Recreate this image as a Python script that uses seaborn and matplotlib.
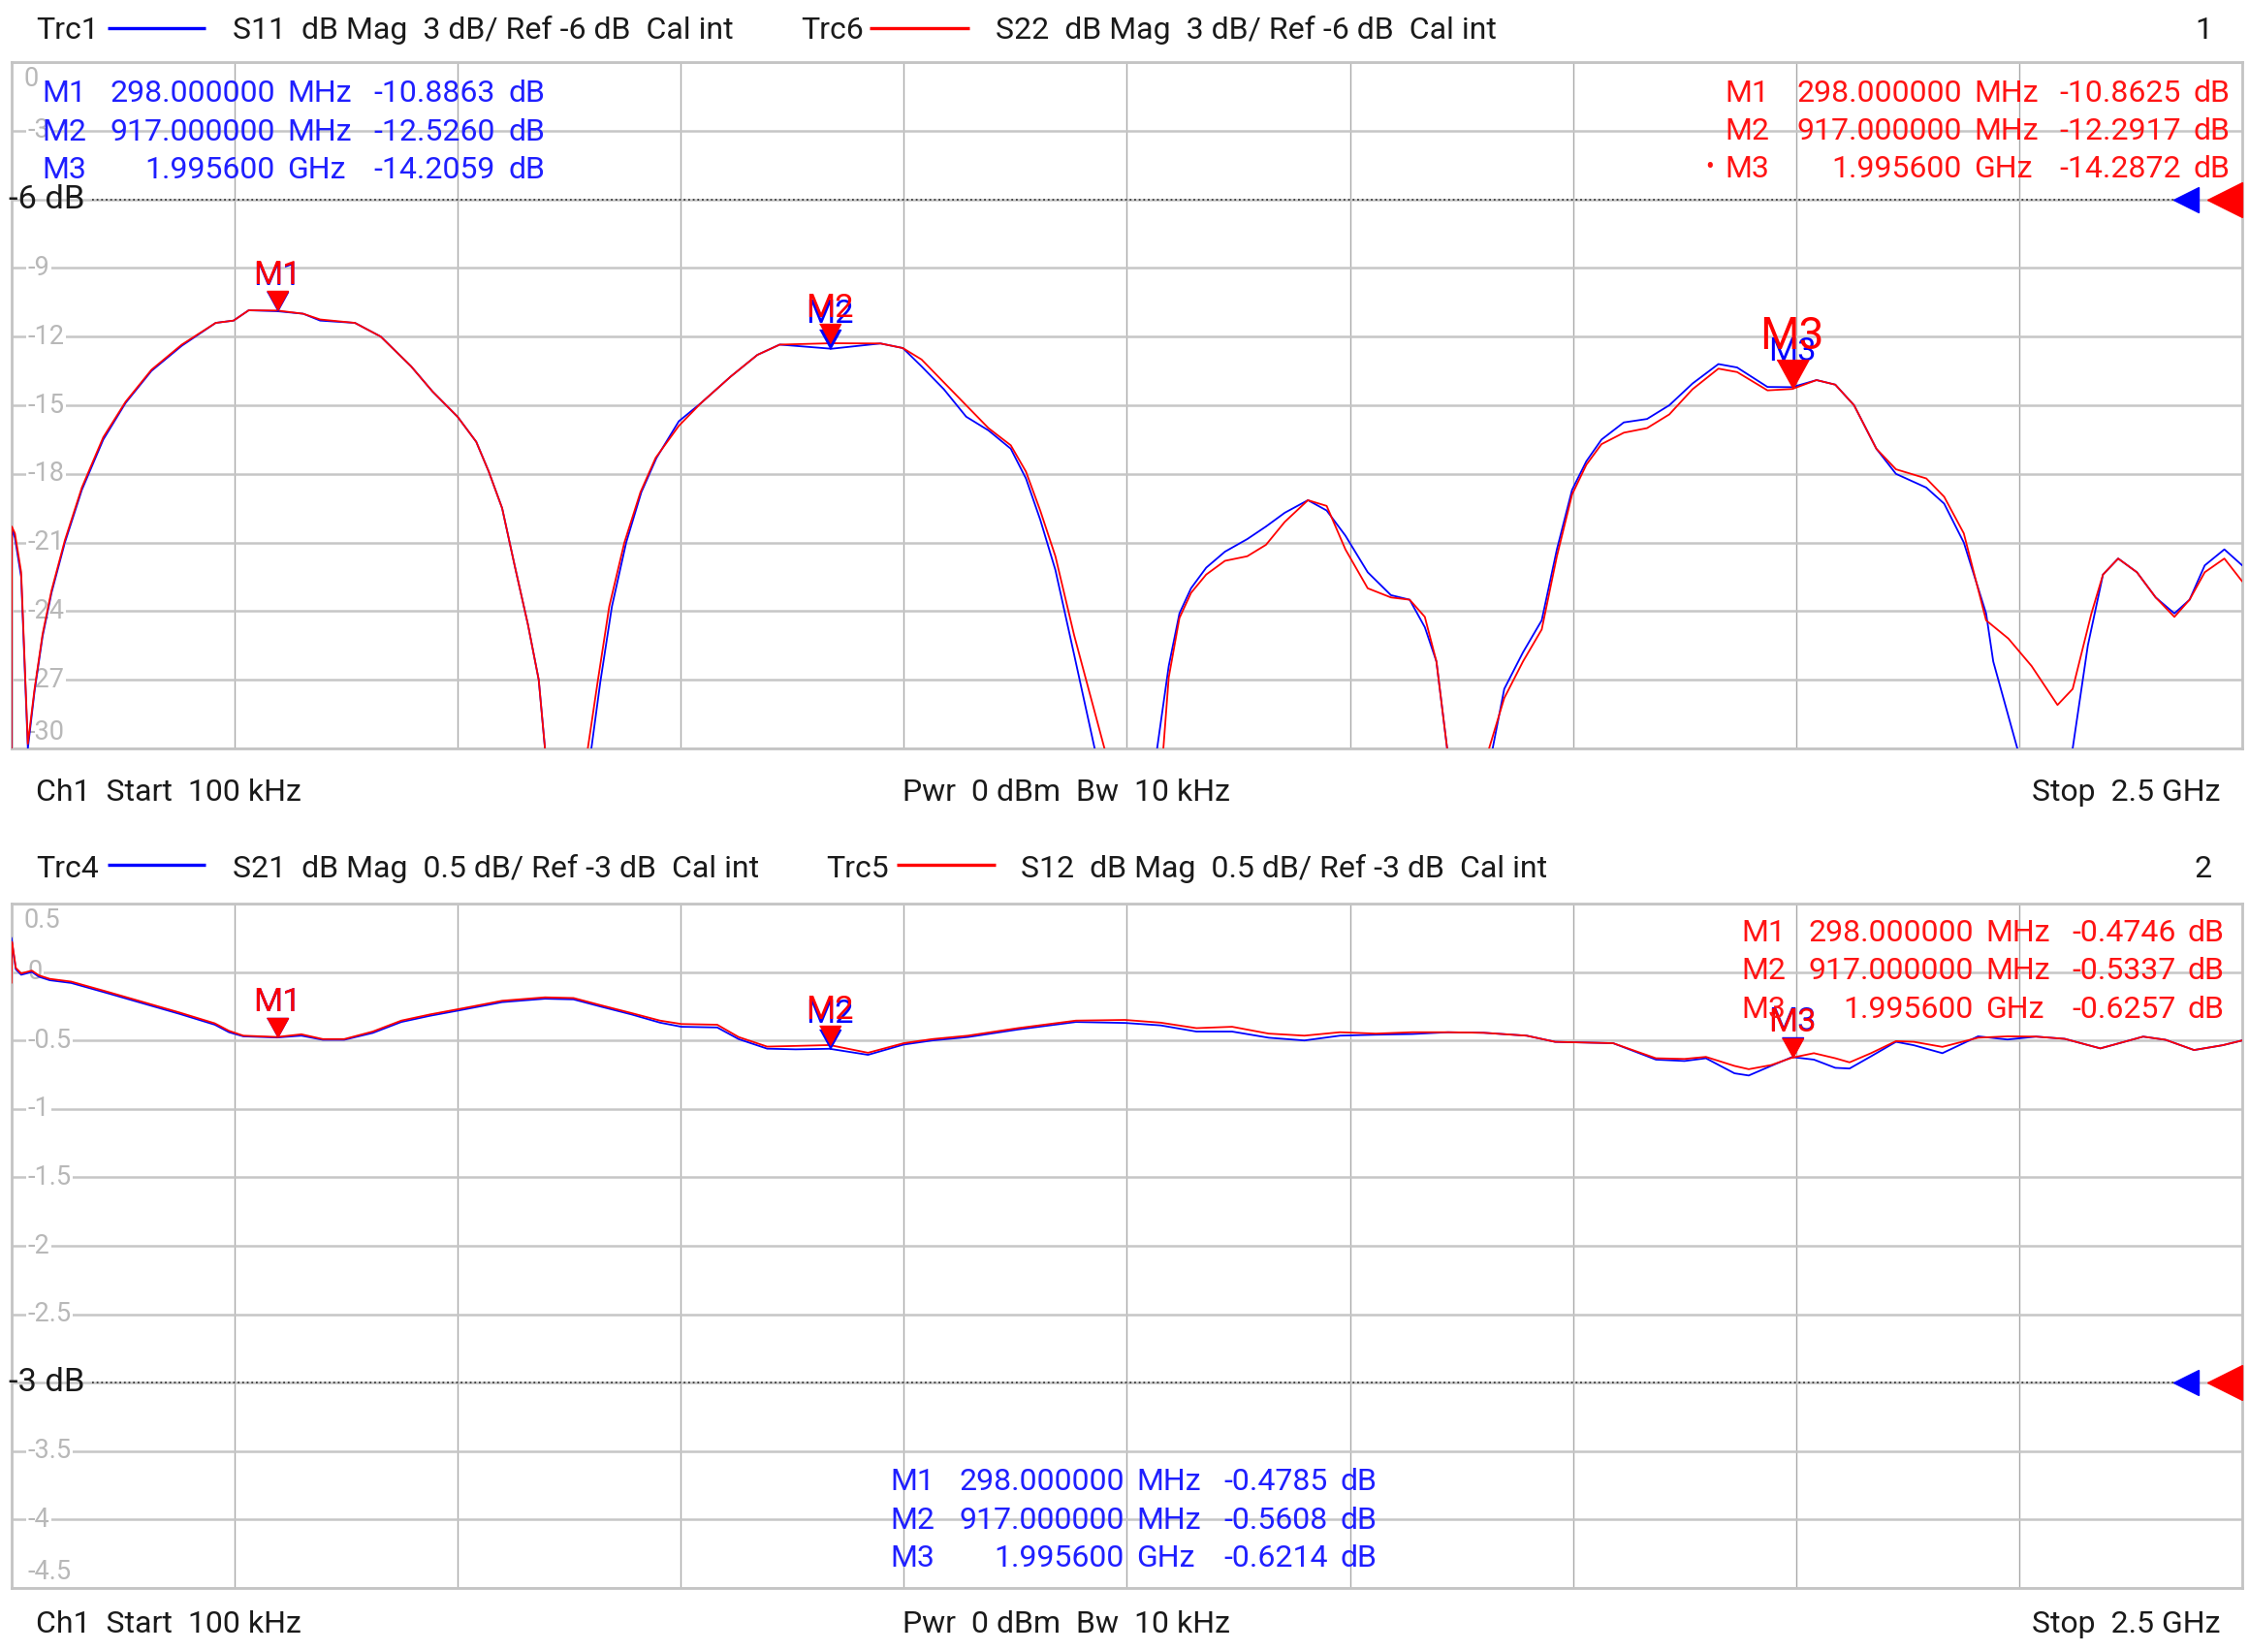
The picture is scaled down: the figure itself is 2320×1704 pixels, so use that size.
import numpy as np
import pandas as pd
import matplotlib
matplotlib.use("Agg")
import matplotlib.pyplot as plt
import seaborn as sns
from matplotlib import font_manager as fm
from matplotlib.lines import Line2D

# ------------------------------------------------------------------ data
F_START, F_STOP = 0.0001, 2.5          # GHz (100 kHz .. 2.5 GHz)

# Diagram 1: S11 (Trc1, blue) and S22 (Trc6, red), dB
S11_f = [0.0001, 0.0005, 0.004, 0.011, 0.0185, 0.026, 0.035, 0.045, 0.060, 0.079,
         0.103, 0.128, 0.157, 0.191, 0.229, 0.249, 0.266, 0.298, 0.327, 0.346,
         0.385, 0.414, 0.448, 0.472, 0.500, 0.521, 0.535, 0.550, 0.564, 0.579,
         0.591, 0.598, 0.624, 0.650, 0.660, 0.673, 0.689, 0.706, 0.723, 0.748,
         0.773, 0.806, 0.836, 0.861, 0.919, 0.974, 0.999, 1.020, 1.045, 1.070,
         1.095, 1.120, 1.137, 1.153, 1.170, 1.191, 1.214, 1.250, 1.284, 1.297,
         1.309, 1.322, 1.339, 1.360, 1.385, 1.406, 1.427, 1.453, 1.474, 1.495,
         1.520, 1.546, 1.567, 1.584, 1.597, 1.609, 1.635, 1.660, 1.673, 1.694,
         1.715, 1.732, 1.749, 1.765, 1.782, 1.807, 1.833, 1.858, 1.884, 1.913,
         1.934, 1.968, 1.9956, 2.023, 2.044, 2.065, 2.090, 2.112, 2.146, 2.166,
         2.188, 2.213, 2.221, 2.248, 2.280, 2.310, 2.327, 2.344, 2.361, 2.382,
         2.403, 2.424, 2.441, 2.458, 2.480, 2.500]
S11_db = [-31.0, -20.4, -20.8, -22.5, -30.0, -27.5, -25.1, -23.2, -21.0, -18.7,
          -16.5, -14.9, -13.5, -12.4, -11.4, -11.3, -10.85, -10.89, -11.0, -11.3,
          -11.4, -12.0, -13.3, -14.4, -15.5, -16.6, -17.9, -19.5, -22.0, -24.6,
          -27.0, -30.0, -34.0, -30.0, -27.1, -23.8, -21.0, -18.8, -17.3, -15.7,
          -14.9, -13.75, -12.8, -12.35, -12.53, -12.3, -12.5, -13.3, -14.3, -15.5,
          -16.1, -16.9, -18.2, -20.0, -22.2, -25.9, -30.0, -34.0, -30.0, -26.4,
          -24.1, -23.0, -22.1, -21.4, -20.85, -20.3, -19.7, -19.15, -19.6, -20.7,
          -22.3, -23.3, -23.5, -24.7, -26.2, -30.0, -34.0, -30.0, -27.4, -25.8,
          -24.4, -21.3, -18.7, -17.45, -16.5, -15.75, -15.6, -15.0, -14.05, -13.2,
          -13.35, -14.2, -14.21, -13.9, -14.1, -15.0, -16.9, -18.0, -18.6, -19.3,
          -21.0, -24.1, -26.2, -30.0, -34.0, -30.0, -25.5, -22.4, -21.7, -22.3,
          -23.4, -24.1, -23.5, -22.0, -21.3, -22.0]

S22_f = [0.0001, 0.0005, 0.004, 0.011, 0.0185, 0.026, 0.035, 0.045, 0.060, 0.079,
         0.103, 0.128, 0.157, 0.191, 0.229, 0.249, 0.266, 0.298, 0.327, 0.346,
         0.385, 0.414, 0.448, 0.472, 0.500, 0.521, 0.535, 0.550, 0.564, 0.579,
         0.591, 0.598, 0.620, 0.646, 0.657, 0.670, 0.687, 0.705, 0.722, 0.748,
         0.773, 0.806, 0.836, 0.861, 0.919, 0.974, 0.999, 1.020, 1.045, 1.070,
         1.095, 1.120, 1.137, 1.153, 1.170, 1.191, 1.225, 1.260, 1.291, 1.297,
         1.309, 1.322, 1.339, 1.360, 1.385, 1.406, 1.427, 1.453, 1.474, 1.495,
         1.520, 1.546, 1.567, 1.584, 1.597, 1.609, 1.630, 1.656, 1.673, 1.694,
         1.715, 1.732, 1.749, 1.765, 1.782, 1.807, 1.833, 1.858, 1.884, 1.913,
         1.934, 1.968, 1.9956, 2.023, 2.044, 2.065, 2.090, 2.112, 2.146, 2.166,
         2.188, 2.213, 2.238, 2.264, 2.293, 2.310, 2.331, 2.344, 2.361, 2.382,
         2.403, 2.424, 2.441, 2.458, 2.480, 2.500]
S22_db = [-31.0, -20.3, -20.6, -22.3, -29.8, -27.4, -25.0, -23.1, -20.9, -18.6,
          -16.4, -14.85, -13.45, -12.35, -11.4, -11.3, -10.85, -10.86, -11.0, -11.25,
          -11.4, -12.0, -13.3, -14.4, -15.5, -16.6, -17.9, -19.5, -22.0, -24.6,
          -27.0, -30.0, -34.0, -30.0, -27.1, -23.8, -21.0, -18.8, -17.3, -15.9,
          -14.9, -13.75, -12.8, -12.35, -12.29, -12.3, -12.5, -13.0, -14.0, -15.0,
          -16.0, -16.75, -17.9, -19.6, -21.6, -25.05, -30.0, -34.0, -30.0, -26.9,
          -24.3, -23.2, -22.4, -21.8, -21.6, -21.1, -20.1, -19.15, -19.4, -21.3,
          -23.0, -23.4, -23.5, -24.25, -26.2, -30.0, -34.0, -30.0, -27.8, -26.2,
          -24.8, -21.6, -18.9, -17.6, -16.7, -16.2, -16.0, -15.4, -14.3, -13.4,
          -13.55, -14.35, -14.29, -13.9, -14.1, -15.0, -16.9, -17.8, -18.2, -19.0,
          -20.6, -24.4, -25.2, -26.4, -28.1, -27.4, -24.1, -22.4, -21.7, -22.3,
          -23.4, -24.25, -23.5, -22.3, -21.7, -22.7]

# Diagram 2: S21 (Trc4, blue) and S12 (Trc5, red), dB
S21_f = [0.0001, 0.0015, 0.005, 0.011, 0.023, 0.031, 0.043, 0.067, 0.108, 0.148,
         0.188, 0.228, 0.244, 0.260, 0.298, 0.325, 0.349, 0.373, 0.405, 0.437,
         0.469, 0.502, 0.550, 0.598, 0.630, 0.662, 0.695, 0.727, 0.751, 0.791,
         0.815, 0.847, 0.879, 0.917, 0.960, 1.000, 1.032, 1.072, 1.128, 1.193,
         1.248, 1.288, 1.328, 1.368, 1.409, 1.449, 1.489, 1.529, 1.570, 1.610,
         1.650, 1.698, 1.730, 1.795, 1.819, 1.843, 1.875, 1.899, 1.931, 1.947,
         1.972, 1.9956, 2.020, 2.044, 2.060, 2.084, 2.112, 2.132, 2.164, 2.204,
         2.237, 2.269, 2.301, 2.341, 2.389, 2.414, 2.446, 2.478, 2.500]
S21_db = [0.25, 0.18, 0.02, -0.02, 0.0, -0.035, -0.06, -0.08, -0.155, -0.23,
          -0.305, -0.385, -0.44, -0.47, -0.4785, -0.465, -0.495, -0.495, -0.445, -0.365,
          -0.32, -0.28, -0.22, -0.195, -0.2, -0.255, -0.31, -0.37, -0.40, -0.405,
          -0.49, -0.56, -0.565, -0.5608, -0.605, -0.53, -0.50, -0.475, -0.42, -0.365,
          -0.372, -0.39, -0.435, -0.435, -0.48, -0.50, -0.465, -0.458, -0.453, -0.44,
          -0.444, -0.465, -0.51, -0.52, -0.58, -0.64, -0.65, -0.63, -0.74, -0.756,
          -0.686, -0.6214, -0.64, -0.70, -0.705, -0.616, -0.51, -0.535, -0.593, -0.47,
          -0.493, -0.472, -0.488, -0.558, -0.472, -0.495, -0.57, -0.535, -0.50]

S12_f = [0.0001, 0.0006, 0.0015, 0.005, 0.011, 0.023, 0.031, 0.043, 0.067, 0.108,
         0.148, 0.188, 0.228, 0.244, 0.260, 0.298, 0.325, 0.349, 0.373, 0.405,
         0.437, 0.469, 0.502, 0.550, 0.598, 0.630, 0.662, 0.695, 0.727, 0.751,
         0.791, 0.815, 0.847, 0.879, 0.917, 0.960, 1.000, 1.032, 1.072, 1.128,
         1.193, 1.248, 1.288, 1.328, 1.368, 1.409, 1.449, 1.489, 1.529, 1.570,
         1.610, 1.650, 1.698, 1.730, 1.795, 1.819, 1.843, 1.875, 1.899, 1.931,
         1.947, 1.972, 1.9956, 2.020, 2.044, 2.060, 2.084, 2.112, 2.132, 2.164,
         2.204, 2.237, 2.269, 2.301, 2.341, 2.389, 2.414, 2.446, 2.478, 2.500]
S12_db = [-0.08, 0.22, 0.19, 0.03, -0.01, 0.01, -0.025, -0.05, -0.07, -0.145,
          -0.22, -0.295, -0.375, -0.43, -0.465, -0.4746, -0.455, -0.49, -0.49, -0.435,
          -0.355, -0.31, -0.27, -0.21, -0.185, -0.19, -0.245, -0.30, -0.355, -0.38,
          -0.385, -0.475, -0.545, -0.54, -0.5337, -0.59, -0.52, -0.49, -0.465, -0.41,
          -0.355, -0.35, -0.37, -0.41, -0.40, -0.45, -0.465, -0.44, -0.45, -0.44,
          -0.44, -0.444, -0.465, -0.51, -0.52, -0.575, -0.63, -0.635, -0.62, -0.686,
          -0.71, -0.68, -0.6257, -0.593, -0.63, -0.66, -0.593, -0.505, -0.51, -0.547,
          -0.48, -0.47, -0.472, -0.488, -0.558, -0.472, -0.495, -0.57, -0.535, -0.50]

# Markers
MARKER_NAMES = ["M1", "M2", "M3"]
MARKER_F = [0.298, 0.917, 1.9956]
MARKER_F_TEXT = ["298.000000", "917.000000", "1.995600"]
MARKER_UNIT = ["MHz", "MHz", "GHz"]
S11_MK = [-10.8863, -12.5260, -14.2059]
S22_MK = [-10.8625, -12.2917, -14.2872]
S21_MK = [-0.4785, -0.5608, -0.6214]
S12_MK = [-0.4746, -0.5337, -0.6257]

TOP_YTICKS = [0, -3, -6, -9, -12, -15, -18, -21, -24, -27, -30]
TOP_YLABELS = ["0", "-3", "-6", "-9", "-12", "-15", "-18", "-21", "-24", "-27", "-30"]
BOT_YTICKS = [0.5, 0, -0.5, -1, -1.5, -2, -2.5, -3, -3.5, -4, -4.5]
BOT_YLABELS = ["0.5", "0", "-0.5", "-1", "-1.5", "-2", "-2.5", "-3", "-3.5", "-4", "-4.5"]
TOP_REF, BOT_REF = -6, -3

# ------------------------------------------------------------------ style
BLUE = "#0000ff"
RED = "#ff0000"
TXT_BLUE = "#1f1fff"
TXT_RED = "#ff1414"
INK = "#1a1a1a"
TICK_GRAY = "#b8b8b8"

sns.set_theme(style="white")


def pick_font():
    names = {e.name for e in fm.fontManager.ttflist}
    for nm in ["Roboto", "Noto Sans", "Lato", "DejaVu Sans"]:
        if nm in names:
            return dict(family=[nm, "DejaVu Sans"])
    return dict(family=["DejaVu Sans"])


FONT = pick_font()
plt.rcParams["font.family"] = FONT["family"]

W, H = 2320, 1704
fig = plt.figure(figsize=(W / 100, H / 100), dpi=100)
fig.patch.set_facecolor("white")

# size text so that the header run has the reference width
renderer = fig.canvas.get_renderer()
_t = fig.text(0, 0, "S11  dB Mag  3 dB/ Ref -6 dB  Cal int", fontsize=20, **FONT)
_w = _t.get_window_extent(renderer).width
_t.remove()
S = max(19.0, min(23.0, 20 * 522 / _w))


def T(x, y, s, ha="left", color=INK, size=None, va="baseline", **kw):
    fig.text(x / W, 1 - y / H, s, ha=ha, va=va, color=color,
             fontsize=S if size is None else size, **FONT, **kw)


def hline(x0, x1, y, color):
    fig.add_artist(Line2D([x0 / W, x1 / W], [1 - y / H, 1 - y / H], color=color,
                          lw=2.4, transform=fig.transFigure, solid_capstyle="butt"))


TRI = [(-0.55, 1.0), (0.55, 1.0), (0.0, 0.0)]   # tip at the data point


def make_panel(rect, traces, ylim, yticks, ylabels, ref, mk_blue, mk_red, big_m3):
    ax = fig.add_axes(rect)
    rows = []
    for name, f, d in traces:
        rows.append(pd.DataFrame({"f": f, "dB": d, "trace": name}))
    df = pd.concat(rows, ignore_index=True)
    order = [traces[0][0], traces[1][0]]
    sns.lineplot(data=df, x="f", y="dB", hue="trace", hue_order=order,
                 palette={order[0]: BLUE, order[1]: RED}, estimator=None,
                 sort=False, linewidth=1.3, legend=False, ax=ax, zorder=3)
    ax.set_xlim(F_START, F_STOP)
    ax.set_ylim(ylim)
    ax.set_xticks(np.linspace(F_START, F_STOP, 11))
    ax.set_yticks(yticks)
    ax.tick_params(length=0, labelbottom=False, labelleft=False)
    ax.set_xlabel("")
    ax.set_ylabel("")
    ax.xaxis.grid(True, color="#a9a9a9", lw=1.0)
    ax.yaxis.grid(True, color="#c6c6c6", lw=1.8)
    ax.set_axisbelow(True)
    for sp in ax.spines.values():
        sp.set_color("#c4c4c4")
        sp.set_linewidth(2.0)
    ytr = ax.get_yaxis_transform()

    # scale labels inside the grid
    top, bot = max(ylim), min(ylim)
    for v, lab in zip(yticks, ylabels):
        if v == ref:
            continue
        if v == top:
            va, dy, dx = "top", -3, 9
        elif v == bot:
            va, dy, dx = "bottom", 2, 12
        else:
            va, dy, dx = "center", 0, 12
        ax.annotate(lab, xy=(0, v), xycoords=ytr, xytext=(dx, dy),
                    textcoords="offset points", ha="left", va=va,
                    color=TICK_GRAY, fontsize=S * 0.85, zorder=1,
                    bbox=dict(fc="white", ec="none", pad=1.0), **FONT)

    # reference level
    ax.annotate(f"{ref:g} dB", xy=(0, ref), xycoords=ytr, xytext=(-2, 0),
                textcoords="offset points", ha="left", va="center",
                color=INK, fontsize=S * 1.08, zorder=4, **FONT)
    ax.plot([0.036, 0.970], [ref, ref], transform=ytr, color="#3a3a3a",
            lw=1.3, ls=(0, (1, 1.6)), zorder=2)
    ax.plot([0.975], [ref], transform=ytr, marker="<", ms=19, color=BLUE,
            clip_on=False, zorder=5)
    ax.plot([0.992], [ref], transform=ytr, marker="<", ms=26, color=RED,
            clip_on=False, zorder=6)

    # markers on traces
    for i, (nm, f) in enumerate(zip(MARKER_NAMES, MARKER_F)):
        for val, col, is_red in ((mk_blue[i], BLUE, False), (mk_red[i], RED, True)):
            big = big_m3 and is_red and nm == "M3"
            ms = 43 if big else 28.8
            off = 29.5 if big else 19.5
            fs = S * 1.45 if big else S * 1.08
            ax.plot([f], [val], marker=TRI, ms=ms, color=col, lw=0,
                    zorder=7 if is_red else 6)
            ax.annotate(nm, xy=(f, val), xytext=(0, off), textcoords="offset points",
                        ha="center", va="baseline", color=col, fontsize=fs,
                        zorder=7 if is_red else 6, **FONT)
    return ax


ax_top = make_panel([11.8 / W, 1 - 772 / H, (2313 - 11.8) / W, (772 - 64) / H],
                    [("S11", S11_f, S11_db), ("S22", S22_f, S22_db)],
                    (-30, 0), TOP_YTICKS, TOP_YLABELS, TOP_REF, S11_MK, S22_MK, True)
ax_bot = make_panel([11.8 / W, 1 - 1638 / H, (2313 - 11.8) / W, (1638 - 932) / H],
                    [("S21", S21_f, S21_db), ("S12", S12_f, S12_db)],
                    (-4.5, 0.5), BOT_YTICKS, BOT_YLABELS, BOT_REF, S21_MK, S12_MK, False)


# ------------------------------------------------------------------ text
def readout(ys, cols, color, values):
    xl, xnum, xunit, xval, xdb = cols
    for i, y in enumerate(ys):
        T(xl, y, MARKER_NAMES[i], color=color)
        T(xnum, y, MARKER_F_TEXT[i], ha="right", color=color)
        T(xunit, y, MARKER_UNIT[i], color=color)
        T(xval, y, f"{values[i]:.4f}", ha="right", color=color)
        T(xdb, y, "dB", color=color)


# diagram 1 header / footer
T(37, 40, "Trc1")
hline(111, 212, 29, BLUE)
T(240, 40, "S11  dB Mag  3 dB/ Ref -6 dB  Cal int")
T(826, 40, "Trc6")
hline(897, 1000, 29, RED)
T(1027, 40, "S22  dB Mag  3 dB/ Ref -6 dB  Cal int")
T(2282, 40, "1", ha="right")
T(37, 826, "Ch1  Start  100 kHz")
T(931, 826, "Pwr  0 dBm  Bw  10 kHz")
T(2290, 826, "Stop  2.5 GHz", ha="right")

readout([105, 145, 184], (43, 284, 296, 511, 524), TXT_BLUE, S11_MK)
readout([105, 144, 183], (1779, 2024, 2036, 2250, 2263), TXT_RED, S22_MK)
T(1759, 180, "\u2022", color=TXT_RED, size=S * 0.8)

# diagram 2 header / footer
T(37, 905, "Trc4")
hline(111, 212, 892, BLUE)
T(240, 905, "S21  dB Mag  0.5 dB/ Ref -3 dB  Cal int")
T(852, 905, "Trc5")
hline(925, 1027, 892, RED)
T(1053, 905, "S12  dB Mag  0.5 dB/ Ref -3 dB  Cal int")
T(2282, 905, "2", ha="right")
T(37, 1684, "Ch1  Start  100 kHz")
T(931, 1684, "Pwr  0 dBm  Bw  10 kHz")
T(2290, 1684, "Stop  2.5 GHz", ha="right")

readout([971, 1010, 1050], (1796, 2036, 2048, 2245, 2257), TXT_RED, S12_MK)
readout([1537, 1577, 1616], (918, 1160, 1172, 1370, 1383), TXT_BLUE, S21_MK)

fig.savefig("out.png", dpi=100, facecolor="white")
